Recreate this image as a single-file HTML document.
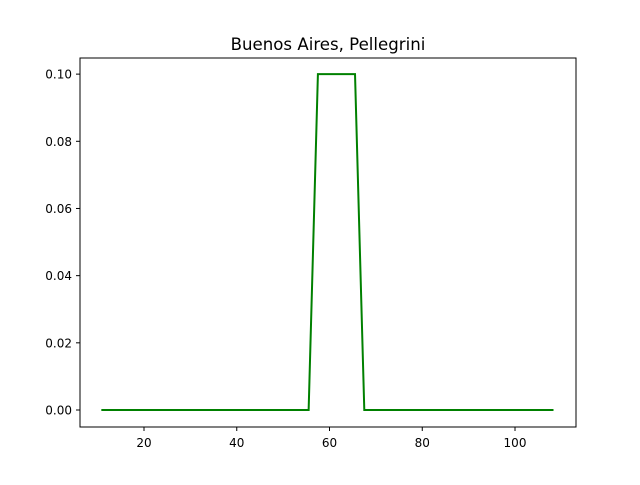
<!DOCTYPE html>
<html><head><meta charset="utf-8"><style>
body{margin:0;background:#fff;font-family:"Liberation Sans","DejaVu Sans",sans-serif;}
svg text{font-family:"DejaVu Sans","Liberation Sans",sans-serif;}
</style></head><body>
<svg id="chart" width="640" height="480" xmlns="http://www.w3.org/2000/svg">
<rect width="640" height="480" fill="#fff"/>
<text x="328" y="50" font-size="16.6" text-anchor="middle">Buenos Aires, Pellegrini</text>
<g id="ticks"></g>
<polyline id="series" fill="none" stroke="#008000" stroke-width="2"/>
<rect x="80" y="58" width="496" height="369" fill="none" stroke="#000" stroke-width="1"/>
</svg>
<script>
const xValues=[10.8,55.5,57.5,65.5,67.5,108.3];
const yValues=[0,0,0.1,0.1,0,0];
const xTicks=[20,40,60,80,100];
const yTicks=[0,0.02,0.04,0.06,0.08,0.10];
const yTickLabels=["0.00","0.02","0.04","0.06","0.08","0.10"];
const X0=80,X1=576,Y0=427,Y1=58;
const xMin=6.2,xMax=113.15,yMin=-0.00506,yMax=0.1048;
function sx(v){return X0+(v-xMin)/(xMax-xMin)*(X1-X0);}
function sy(v){return Y0-(v-yMin)/(yMax-yMin)*(Y0-Y1);}
const ns="http://www.w3.org/2000/svg";
const g=document.getElementById('ticks');
function mk(t,a){const e=document.createElementNS(ns,t);for(const k in a)e.setAttribute(k,a[k]);g.appendChild(e);return e;}
xTicks.forEach(v=>{const x=sx(v);
 const l=mk('line',{x1:x,x2:x,y1:427,y2:431,stroke:'#000'});
 
 
 const t=mk('text',{x:x,y:447,'font-size':12,'text-anchor':'middle'});t.textContent=v;
 
 
});
yTicks.forEach((v,i)=>{const y=sy(v);
 const l=mk('line',{x1:76,x2:80,y1:y,y2:y,stroke:'#000'});
 
 
 const t=mk('text',{x:72,y:y+4.5,'font-size':12,'text-anchor':'end'});t.textContent=yTickLabels[i];
 
 
});
document.getElementById('series').setAttribute('points',xValues.map((x,i)=>sx(x)+','+sy(yValues[i])).join(' '));
</script>
</body></html>
